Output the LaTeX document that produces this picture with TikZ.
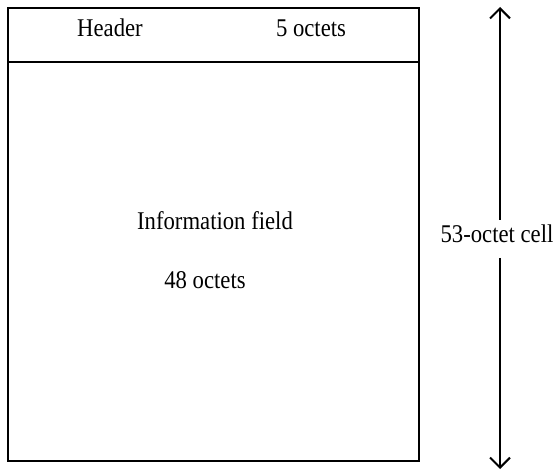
\documentclass[tikz,border=0pt]{standalone}
\usepackage{fontspec}
\setmainfont{Liberation Serif}
\usetikzlibrary{arrows.meta}
\newcommand{\narrowtxt}[1]{\scalebox{0.89}[1]{#1}}
\begin{document}
\begin{tikzpicture}[x=1bp,y=-1bp,
  lbl/.style={font=\fontsize{25.5bp}{30bp}\selectfont, inner sep=0pt, anchor=base},
  frame/.style={line width=2.2bp, draw=black},
  barb/.tip={Straight Barb[length=10bp,width=20bp,line width=2bp]},
  dimline/.style={line width=2bp}]
\useasboundingbox (0,0) rectangle (555,470);
\node[inner sep=0pt, minimum width=411bp, minimum height=453bp, frame, anchor=north west] (cell) at (7,7) {};
\coordinate (hl) at (7,62);
\coordinate (hr) at (418,62);
\draw[frame] (hl) -- (hr);
\node[lbl] (hdr) at (110,37) {\narrowtxt{Header}};
\node[lbl] (hdrsz) at (311,37) {\narrowtxt{5 octets}};
\node[lbl] (info) at (215,230) {\narrowtxt{Information field}};
\node[lbl] (infosz) at (205,288) {\narrowtxt{48 octets}};
\node[lbl] (cellsz) at (497,243) {\narrowtxt{53-octet cell}};
\coordinate (atop) at (500,7);
\coordinate (gtop) at (500,220);
\coordinate (gbot) at (500,258);
\coordinate (abot) at (500,469);
\draw[dimline, barb-] (atop) -- (gtop);
\draw[dimline, -barb] (gbot) -- (abot);
\end{tikzpicture}
\end{document}
